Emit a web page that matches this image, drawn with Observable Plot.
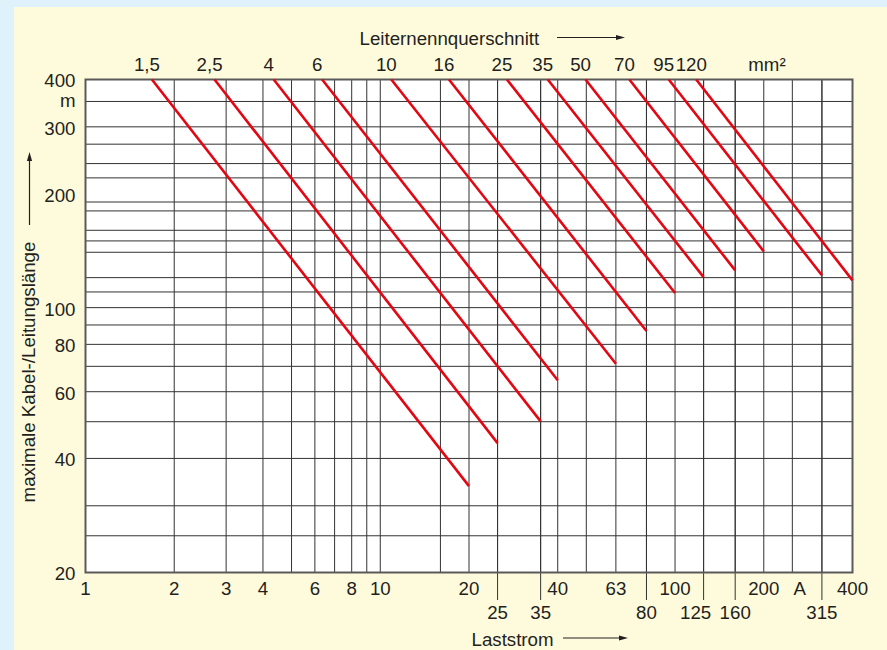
<!DOCTYPE html>
<html>
<head>
<meta charset="utf-8">
<script src="https://cdn.jsdelivr.net/npm/d3@7"></script>
<script src="https://cdn.jsdelivr.net/npm/@observablehq/plot@0.6"></script>
<style>
  html, body { margin: 0; padding: 0; background: #dff1fa; }
  #wrap { position: relative; width: 887px; height: 650px; overflow: hidden; }
  #cream { position: absolute; left: 14px; top: 7px; right: 0; bottom: 0; background: #fefbdc; }
  #chart { position: absolute; left: 0; top: 0; }
</style>
</head>
<body>
<div id="wrap"><div id="cream"></div><div id="chart"></div></div>
<script>
// Conductor cross-sections (mm²) and their lines: from L = 400 m down to the end point
const sections = ["1,5", "2,5", "4", "6", "10", "16", "25", "35", "50", "70", "95", "120"];
const startCurrent = [1.68, 2.74, 4.35, 6.35, 10.9, 17.1, 26.9, 37, 49.7, 70, 95.2, 118];
const startLength = 400;
const endCurrent = [20, 25, 35, 40, 63, 80, 100, 125, 160, 200, 315, 400];
const endLength = [33.8, 43.9, 50.1, 64.3, 71.1, 86.8, 109.3, 120.4, 125.4, 140.8, 121.7, 118];

// Grid and tick labels
const xGrid = [2, 3, 4, 5, 6, 7, 8, 9, 10, 16, 20, 25, 35, 40, 50, 63, 80, 100, 125, 160, 200, 250, 315];
const yGrid = [25, 30, 40, 50, 60, 70, 80, 90, 100, 110, 120, 140, 150, 160, 180, 190, 220, 240, 270, 300, 350];
const xTickValues = [1, 2, 3, 4, 6, 8, 10, 20, 40, 63, 100, 200, 400];
const xTickValuesLow = [25, 35, 80, 125, 160, 315];
const yTickValues = [20, 40, 60, 80, 100, 200, 300, 400];
const xUnit = {label: "A", at: 265};
const yUnit = {label: "m", at: 350};
const sectionUnit = {label: "mm²", at: 205};

const lines = sections.map((s, i) => ({
  s, x1: startCurrent[i], y1: startLength, x2: endCurrent[i], y2: endLength[i]
}));

const font = "'Liberation Sans', Arial, Helvetica, sans-serif";
const ink = "#231f20";
const fs = 18.7;

const plot = Plot.plot({
  width: 887,
  height: 650,
  marginLeft: 85,
  marginRight: 35,
  marginTop: 79,
  marginBottom: 78,
  style: {background: "transparent", fontFamily: font, fontSize: "18.7px", color: ink, overflow: "visible"},
  x: {type: "log", domain: [1, 400], axis: null},
  y: {type: "log", domain: [20, 400], axis: null},
  marks: [
    Plot.frame({fill: "white"}),
    Plot.ruleY(yGrid, {stroke: "#333", strokeWidth: 1}),
    Plot.ruleX(xGrid, {stroke: "#333", strokeWidth: 1}),
    Plot.ruleX(xTickValuesLow, {stroke: "#333", strokeWidth: 1, insetBottom: -28}),
    Plot.frame({stroke: "#5a5a5a", strokeWidth: 2}),
    Plot.link(lines, {x1: "x1", y1: "y1", x2: "x2", y2: "y2", stroke: "#e30613", strokeWidth: 2.6}),
    // x tick labels
    Plot.text(xTickValues, {x: d => d, text: d => String(d), frameAnchor: "bottom", lineAnchor: "middle", dy: 17, fill: ink, fontSize: fs}),
    Plot.text([xUnit], {x: "at", text: "label", frameAnchor: "bottom", lineAnchor: "middle", dy: 17, fill: ink, fontSize: fs}),
    Plot.text(xTickValuesLow.filter(d => d !== 125), {x: d => d, text: d => String(d), frameAnchor: "bottom", lineAnchor: "middle", dy: 41, fill: ink, fontSize: fs}),
    Plot.text(xTickValuesLow.filter(d => d === 125), {x: d => d, text: d => String(d), frameAnchor: "bottom", lineAnchor: "middle", dy: 41, dx: -8, fill: ink, fontSize: fs}),
    // y tick labels
    Plot.text(yTickValues, {y: d => d, text: d => String(d), frameAnchor: "left", textAnchor: "end", lineAnchor: "middle", dx: -10, dy: 2, fill: ink, fontSize: fs}),
    Plot.text([yUnit], {y: "at", text: "label", frameAnchor: "left", textAnchor: "end", lineAnchor: "middle", dx: -10, dy: 0, fill: ink, fontSize: fs}),
    // cross-section labels on top
    Plot.text(lines, {x: "x1", text: "s", frameAnchor: "top", lineAnchor: "middle", dy: -14, dx: -5, fill: ink, fontSize: fs}),
    Plot.text([sectionUnit], {x: "at", text: "label", frameAnchor: "top", lineAnchor: "middle", dy: -14, fill: ink, fontSize: fs}),
    // axis titles
    Plot.text(["Leiternennquerschnitt"], {frameAnchor: "top-left", textAnchor: "start", lineAnchor: "middle", dx: 274, dy: -40, fill: ink, fontSize: fs}),
    Plot.text(["Laststrom"], {frameAnchor: "bottom-left", textAnchor: "start", lineAnchor: "middle", dx: 386, dy: 68, fill: ink, fontSize: fs}),
    Plot.text(["maximale Kabel-/Leitungslänge"], {frameAnchor: "left", textAnchor: "middle", lineAnchor: "middle", rotate: -90, dx: -56, dy: 46, fill: ink, fontSize: fs})
  ]
});

// decorative arrows next to the axis titles
const svg = d3.select(plot);
function arrow(x1, y1, x2, y2) {
  const g = svg.append("g").attr("fill", ink).attr("stroke", ink);
  const ang = Math.atan2(y2 - y1, x2 - x1);
  const L = 9, W = 2.6;
  const bx = x2 - L * Math.cos(ang), by = y2 - L * Math.sin(ang);
  g.append("line").attr("x1", x1).attr("y1", y1).attr("x2", bx).attr("y2", by).attr("stroke-width", 1.2);
  const px = -Math.sin(ang) * W, py = Math.cos(ang) * W;
  g.append("path").attr("stroke", "none")
    .attr("d", `M${x2},${y2}L${bx + px},${by + py}L${bx - px},${by - py}Z`);
}
arrow(557, 37.5, 625, 37.5);
arrow(563, 638, 628, 638);
arrow(29.5, 225, 29.5, 152);

document.getElementById("chart").appendChild(plot);
</script>
</body>
</html>
